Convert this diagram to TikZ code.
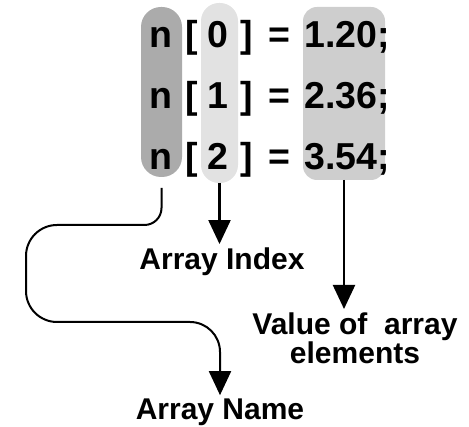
\documentclass[tikz,border=0pt]{standalone}
\usepackage{fontspec}
\setmainfont{Liberation Sans}
\usetikzlibrary{arrows.meta}
\definecolor{namegray}{HTML}{ABABAB}
\definecolor{idxgray}{HTML}{E2E2E2}
\definecolor{valgray}{HTML}{CECECE}

\begin{document}
\begin{tikzpicture}[x=1pt,y=1pt,
  band/.style={inner sep=0pt,outer sep=0pt},
  code/.style={font=\fontsize{37.5}{40}\selectfont\bfseries,inner sep=0pt,anchor=base},
  lbl/.style={font=\fontsize{30}{27}\selectfont\bfseries,inner sep=0pt,align=center},
  arr/.style={-{Triangle[length=24pt,width=22pt]},line width=2.2pt,shorten >=4pt}]
  \useasboundingbox (0,0) rectangle (469,427);

  % shaded columns behind the code
  \node[band,fill=namegray,rounded corners=20pt,minimum width=41pt,minimum height=170pt] (ncol) at (161.5,335) {};
  \node[band,fill=idxgray,rounded corners=18pt,minimum width=37pt,minimum height=180pt] (icol) at (219.5,334) {};
  \node[band,fill=valgray,rounded corners=14pt,minimum width=82pt,minimum height=173pt] (vcol) at (344,333.5) {};

  \node[code] (n0)  at (160.5,379) {n};
  \node[code] (lb0) at (192,379)   {[};
  \node[code] (i0)  at (218,379)   {0};
  \node[code] (rb0) at (247,379)   {]};
  \node[code] (eq0) at (279,379)   {=};
  \node[code] (v0)  at (347,379)   {1.20;};

  \node[code] (n1)  at (160.5,318) {n};
  \node[code] (lb1) at (192,318)   {[};
  \node[code] (i1)  at (218,318)   {1};
  \node[code] (rb1) at (247,318)   {]};
  \node[code] (eq1) at (279,318)   {=};
  \node[code] (v1)  at (347,318)   {2.36;};

  \node[code] (n2)  at (160.5,257) {n};
  \node[code] (lb2) at (192,257)   {[};
  \node[code] (i2)  at (218,257)   {2};
  \node[code] (rb2) at (247,257)   {]};
  \node[code] (eq2) at (279,257)   {=};
  \node[code] (v2)  at (347,257)   {3.54;};

  % labels
  \node[lbl,anchor=base] (idxlbl)  at (222,157) {Array Index};
  \node[lbl,anchor=north] (vallbl) at (355,114) {Value of\ \ array\\elements};
  \node[lbl,anchor=base] (namelbl) at (220,7)   {Array Name};

  \draw[arr] (icol.south) -- (icol.south |- idxlbl.north);
  \draw[arr] (vcol.south) -- (vcol.south |- vallbl.north);
  \draw[arr,line width=2pt,shorten <=11pt] (ncol.south) -- ++(0,-31)
      arc[start angle=0,end angle=-90,radius=17] -- (57,202)
      arc[start angle=90,end angle=180,radius=31] -- (26,136)
      arc[start angle=180,end angle=270,radius=31] -- (190,105)
      arc[start angle=90,end angle=0,radius=30] -- (namelbl.north);
\end{tikzpicture}
\end{document}
